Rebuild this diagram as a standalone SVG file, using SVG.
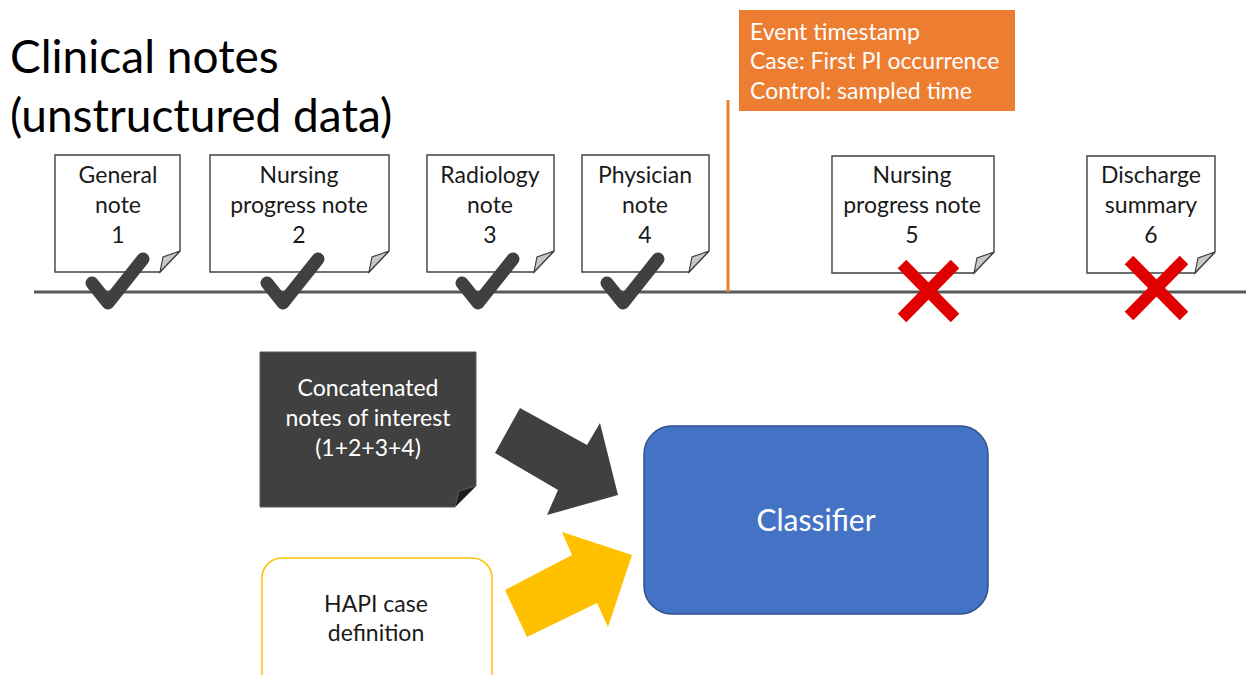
<svg xmlns="http://www.w3.org/2000/svg" width="1246" height="675" viewBox="0 0 1246 675">
<style>
text{font-family:Lato,"Open Sans","Liberation Sans",sans-serif;}
.nt{font-size:23px;fill:#1a1a1a;text-anchor:middle;}
.note{fill:#fff;stroke:#404040;stroke-width:1.4;}
.fold{fill:#c8c8c8;stroke:#404040;stroke-width:1.2;}
.chk{fill:none;stroke:#404040;stroke-width:13;stroke-linecap:round;stroke-linejoin:round;}
.x{stroke:#e00000;stroke-width:12;}
</style>
<rect width="1246" height="675" fill="#fff"/>
<g id="title">
<text x="10" y="73" font-size="46" fill="#000">Clinical notes</text>
<text x="10" y="132" font-size="46" fill="#000">(unstructured data)</text>
</g>
<g id="timeline">
<line x1="34" y1="292" x2="1246" y2="292" stroke="#595959" stroke-width="3"/>
<line x1="728" y1="100" x2="728" y2="292" stroke="#ED7D31" stroke-width="3"/>
</g>
<g id="event">
<rect x="739" y="10" width="276" height="101" fill="#ED7D31"/>
<text x="750" y="40" font-size="23" fill="#fff">Event timestamp</text>
<text x="750" y="69" font-size="23" fill="#fff">Case: First PI occurrence</text>
<text x="750" y="99" font-size="23" fill="#fff">Control: sampled time</text>
</g>
<g id="note1">
<path class="note" d="M55,155 H180 V251 L160,272 H55 Z"/>
<path class="fold" d="M180,251 L160,272 L163,257 Z"/>
<text class="nt" x="118" y="183">General</text>
<text class="nt" x="118" y="213">note</text>
<text class="nt" x="118" y="243">1</text>
</g>
<g id="note2">
<path class="note" d="M210,155 H389 V251 L369,272 H210 Z"/>
<path class="fold" d="M389,251 L369,272 L372,257 Z"/>
<text class="nt" x="299" y="183">Nursing</text>
<text class="nt" x="299" y="213">progress note</text>
<text class="nt" x="299" y="243">2</text>
</g>
<g id="note3">
<path class="note" d="M427,155 H554 V251 L534,272 H427 Z"/>
<path class="fold" d="M554,251 L534,272 L537,257 Z"/>
<text class="nt" x="490" y="183">Radiology</text>
<text class="nt" x="490" y="213">note</text>
<text class="nt" x="490" y="243">3</text>
</g>
<g id="note4">
<path class="note" d="M582,155 H709 V251 L689,272 H582 Z"/>
<path class="fold" d="M709,251 L689,272 L692,257 Z"/>
<text class="nt" x="645" y="183">Physician</text>
<text class="nt" x="645" y="213">note</text>
<text class="nt" x="645" y="243">4</text>
</g>
<g id="note5">
<path class="note" d="M832,156 H994 V252 L974,273 H832 Z"/>
<path class="fold" d="M994,252 L974,273 L977,258 Z"/>
<text class="nt" x="912" y="183">Nursing</text>
<text class="nt" x="912" y="213">progress note</text>
<text class="nt" x="912" y="243">5</text>
</g>
<g id="note6">
<path class="note" d="M1087,156 H1215 V252 L1195,273 H1087 Z"/>
<path class="fold" d="M1215,252 L1195,273 L1198,258 Z"/>
<text class="nt" x="1151" y="183">Discharge</text>
<text class="nt" x="1151" y="213">summary</text>
<text class="nt" x="1151" y="243">6</text>
</g>
<g id="marks">
<polyline class="chk" points="92,283 108,303 143,259"/>
<polyline class="chk" points="267,283 283,303 318,259"/>
<polyline class="chk" points="462,283 478,303 513,259"/>
<polyline class="chk" points="607,283 623,303 658,259"/>
<g class="x"><line x1="902" y1="264" x2="955" y2="318"/><line x1="955" y1="264" x2="902" y2="318"/></g>
<g class="x"><line x1="1129" y1="260" x2="1184" y2="316"/><line x1="1184" y1="260" x2="1129" y2="316"/></g>
</g>
<g id="concat">
<path d="M260,352 H476 V486 L455,507 H260 Z" fill="#404040" stroke="#595959" stroke-width="1"/>
<path d="M476,486 L455,507 L459,491 Z" fill="#1e1e1e" stroke="#595959" stroke-width="1"/>
<text x="368" y="396" font-size="23" fill="#fff" text-anchor="middle">Concatenated</text>
<text x="368" y="426" font-size="23" fill="#fff" text-anchor="middle">notes of interest</text>
<text x="368" y="456" font-size="23" fill="#fff" text-anchor="middle">(1+2+3+4)</text>
</g>
<g id="hapi">
<rect x="262" y="558" width="230" height="140" rx="20" fill="#fff" stroke="#FFC000" stroke-width="1.5"/>
<text class="nt" x="376" y="612">HAPI case</text>
<text class="nt" x="376" y="641">definition</text>
</g>
<g id="classifier">
<rect x="644" y="426" width="344" height="188" rx="28" fill="#4472C4" stroke="#2F528F" stroke-width="1.5"/>
<text x="816" y="531" font-size="30" fill="#fff" text-anchor="middle">Classifier</text>
</g>
<g id="connectors">
<polygon points="495,453 520,408 587,445 600,423 618,495 547,515 558,490" fill="#404040"/>
<polygon points="527,637 505,590 572,555 562,532 632,555 608,627 597,603" fill="#FFC000"/>
</g>
</svg>
